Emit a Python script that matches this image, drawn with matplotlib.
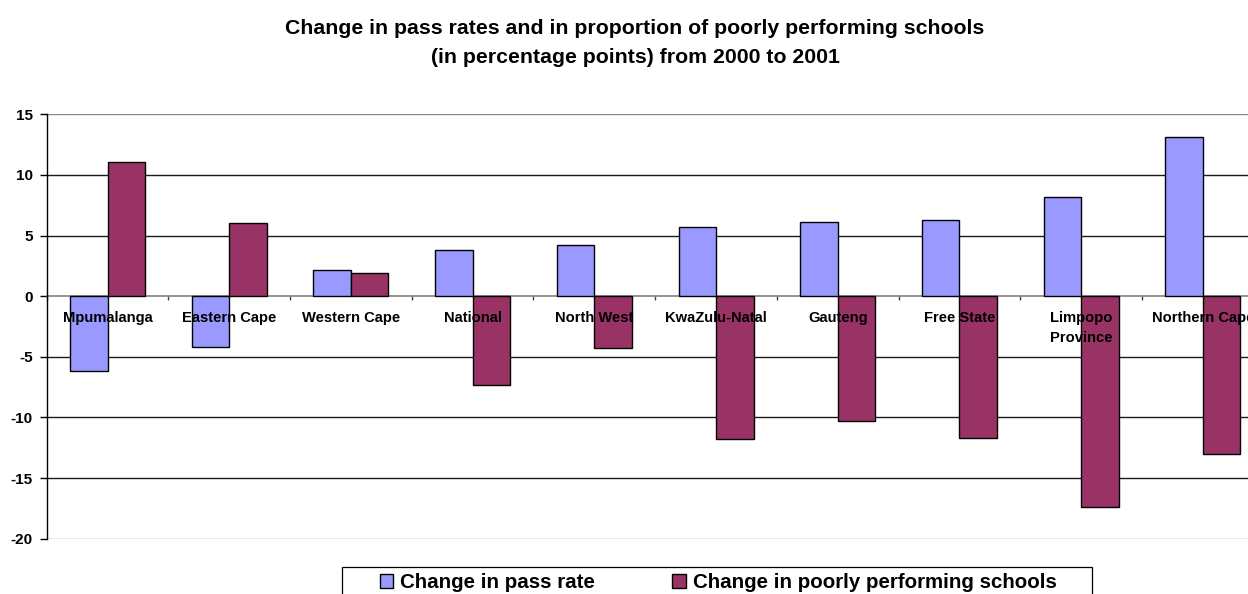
import matplotlib
matplotlib.use("Agg")
import matplotlib.pyplot as plt
from matplotlib.patches import Patch, Rectangle

plt.rcParams['font.family'] = ['Liberation Sans', 'DejaVu Sans']

provinces = ["Mpumalanga", "Eastern Cape", "Western Cape", "National", "North West",
             "KwaZulu-Natal", "Gauteng", "Free State", "Limpopo\nProvince", "Northern Cape"]
pass_rate_change = [-6.2, -4.2, 2.2, 3.8, 4.2, 5.7, 6.1, 6.3, 8.2, 13.1]
poor_schools_change = [11.1, 6.0, 1.9, -7.3, -4.3, -11.8, -10.3, -11.7, -17.4, -13.0]
y_ticks = [15, 10, 5, 0, -5, -10, -15, -20]

title = "Change in pass rates and in proportion of poorly performing schools\n(in percentage points) from 2000 to 2001"
series_names = ["Change in pass rate", "Change in poorly performing schools"]

blue = "#9999FF"
maroon = "#993366"

W, H = 1248, 594
fig = plt.figure(figsize=(W / 100, H / 100), dpi=100)
ax = fig.add_axes([46.7 / W, 55.3 / H, 1217 / W, 424.4 / H])

n = len(provinces)
xs = list(range(n))
bw = 0.308
ax.bar([x - bw / 2 for x in xs], pass_rate_change, width=bw, color=blue,
       edgecolor="black", linewidth=1.0, zorder=3)
ax.bar([x + bw / 2 for x in xs], poor_schools_change, width=bw, color=maroon,
       edgecolor="black", linewidth=1.0, zorder=3)

ax.set_xlim(-0.5, n - 0.5)
ax.set_ylim(-20, 15)

# horizontal gridlines
for v in y_ticks:
    if v == 0:
        continue
    col = "#8a8a8a" if v in (15, -20) else "#1a1a1a"
    ax.axhline(v, color=col, linewidth=1.0, zorder=1)

for s in ("top", "right"):
    ax.spines[s].set_visible(False)
ax.spines["bottom"].set_position(("data", 0))
ax.spines["bottom"].set_color("#808080")
ax.spines["bottom"].set_linewidth(1.2)
ax.spines["bottom"].set_zorder(2)
ax.spines["left"].set_color("black")
ax.spines["left"].set_linewidth(1.0)

ax.set_yticks(y_ticks)
ax.set_yticklabels([str(v) for v in y_ticks], fontsize=11, fontweight="bold")
ax.tick_params(axis="y", direction="out", length=5, width=1, pad=5)

ax.set_xticks([x - 0.5 for x in xs] + [n - 0.5])
ax.set_xticklabels([])
ax.tick_params(axis="x", direction="out", length=3, width=1, color="#404040")

for x, name in zip(xs, provinces):
    ax.annotate(name, xy=(x, 0), xytext=(0, -15), textcoords="offset pixels",
                ha="center", va="top", fontsize=10.6, fontweight="bold",
                linespacing=1.5, zorder=5, annotation_clip=False)

fig.text(635 / W, 1 - 19 / H, title, ha="center", va="top", fontsize=15.3,
         fontweight="bold", linespacing=1.66)

# legend frame running off the bottom edge
fig.patches.append(Rectangle((342 / W, -0.05), (1092 - 342) / W, 0.05 + (594 - 567) / H,
                             transform=fig.transFigure, facecolor="white",
                             edgecolor="black", linewidth=0.9, zorder=0))

handles = [Patch(facecolor=blue, edgecolor="black", linewidth=1.0),
           Patch(facecolor=maroon, edgecolor="black", linewidth=1.0)]
leg = fig.legend(handles, series_names, ncol=2, loc="upper left",
                 bbox_to_anchor=(380 / W, 1 - 573 / H),
                 prop={"weight": "bold", "size": 14.8},
                 handlelength=0.65, handleheight=0.65, handletextpad=0.34,
                 columnspacing=3.75, borderpad=0.0, borderaxespad=0.0,
                 frameon=False)

fig.savefig("out.png", dpi=100)
